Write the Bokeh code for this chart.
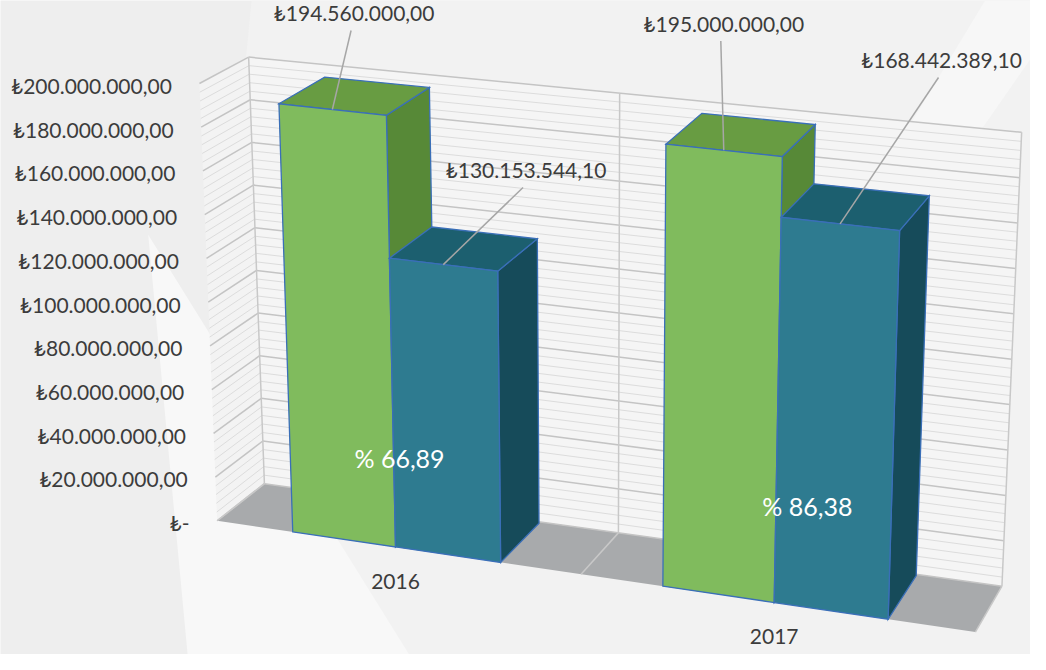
from bokeh.plotting import figure
from bokeh.models import Range1d
from bokeh.core.properties import value
from bokeh.embed import file_html
from bokeh.resources import INLINE

# ---------------- data ----------------
categories = ["2016", "2017"]
budget = [194560000.00, 195000000.00]      # green series
spent = [130153544.10, 168442389.10]       # blue series
pct_labels = ["% 66,89", "% 86,38"]
tick_values = [0, 20e6, 40e6, 60e6, 80e6, 100e6, 120e6, 140e6, 160e6, 180e6, 200e6]
minor_step = 4e6
y_max = 200e6

# ---------------- style / layout ----------------
FONT = "Lato"
TXT = "#3c3c3c"
GREEN = ("#80bb5d", "#689c42", "#578937")   # front, top, side
BLUE = ("#2e7b90", "#1c5f6f", "#164b5a")
EDGE = "#3a6fb8"
# projected corners of the 3-D plot box (back/front, bottom/top, left/right)
BBL, BBR, BTL, BTR = (268, 495), (1017, 600), (252, 58), (1037, 135)
FBL, FBR, FTL, FTR = (220, 533), (990, 647), (202, 85), (1008, 171)
K = 0.923          # perspective foreshortening along the category axis
GAP = 1.5          # gap width (in bar widths)
W0, W1 = 0.03, 1.0  # bar depth extent


def lerp(a, b, t):
    return (a[0] + (b[0] - a[0]) * t, a[1] + (b[1] - a[1]) * t)


def proj(u, v, w):
    s = K * u / (1 + (K - 1) * u)
    back = lerp(lerp(BBL, BBR, s), lerp(BTL, BTR, s), v)
    front = lerp(lerp(FBL, FBR, s), lerp(FTL, FTR, s), v)
    return lerp(back, front, w)


def poly(pts):
    return [q[0] for q in pts], [q[1] for q in pts]


def money(x):
    if x == 0:
        return "\u20ba-"
    s = f"{x:,.2f}".replace(",", "X").replace(".", ",").replace("X", ".")
    return "\u20ba" + s


p = figure(width=1030, height=654, x_range=Range1d(0, 1046), y_range=Range1d(670, 0),
           output_backend="svg", toolbar_location=None, min_border=0,
           x_axis_location=None, y_axis_location=None)
p.grid.visible = False
p.outline_line_color = None
p.background_fill_color = "#eeeeee"
p.border_fill_color = "#eeeeee"

# decorative background shapes
bg_shapes = [
    [(255, 0), (1046, 0), (1046, 670), (190, 670)],
    [(150, 240), (190, 670), (415, 670)],
    [(1000, 0), (1046, 0), (1046, 60), (880, 300), (820, 300)],
]
bg_cols = ["#f2f2f2", "#f8f8f8", "#f7f7f7"]
bx, by = [], []
for s in bg_shapes:
    xs, ys = poly(s)
    bx.append(xs)
    by.append(ys)
p.patches(bx, by, fill_color=bg_cols, line_color=None)

# walls and floor
walls = [
    [proj(0, 0, 0), proj(1, 0, 0), proj(1, 1, 0), proj(0, 1, 0)],
    [proj(0, 0, 0), proj(0, 0, 1), proj(0, 1, 1), proj(0, 1, 0)],
    [proj(0, 0, 0), proj(1, 0, 0), proj(1, 0, 1), proj(0, 0, 1)],
]
wx, wy = [], []
for s in walls:
    xs, ys = poly(s)
    wx.append(xs)
    wy.append(ys)
p.patches(wx, wy, fill_color=["#f5f5f5", "#f3f3f3", "#a8aaac"], line_color=None)

# gridlines
minor_x, minor_y, major_x, major_y = [], [], [], []
n_minor = int(round(y_max / minor_step))
for k in range(n_minor + 1):
    val = k * minor_step
    v = val / y_max
    segs = [(proj(0, v, 0), proj(1, v, 0)), (proj(0, v, 0), proj(0, v, 1))]
    for a, b in segs:
        if any(abs(val - t) < 1 for t in tick_values):
            major_x.append([a[0], b[0]])
            major_y.append([a[1], b[1]])
        else:
            minor_x.append([a[0], b[0]])
            minor_y.append([a[1], b[1]])
p.multi_line(minor_x, minor_y, line_color="#dcdcdc", line_width=1)
p.multi_line(major_x, major_y, line_color="#c4c4c4", line_width=1.5)

vx, vy = [], []
for i in range(len(categories) + 1):
    u = i / len(categories)
    a, b = proj(u, 0, 0), proj(u, 1, 0)
    vx.append([a[0], b[0]])
    vy.append([a[1], b[1]])
    c, d = proj(u, 0, 0), proj(u, 0, 1)
    vx.append([c[0], d[0]])
    vy.append([c[1], d[1]])
p.multi_line(vx, vy, line_color="#c8c8c8", line_width=1.5)

# bars
n_cat, n_ser = len(categories), 2
bw = 1.0 / (n_cat * (n_ser + GAP))
fx, fy, fcol = [], [], []
series = [(budget, GREEN), (spent, BLUE)]
bar_top_anchor = []
for i in range(n_cat):
    for j, (vals, cols) in enumerate(series):
        u0 = i / n_cat + GAP / 2 * bw + j * bw
        u1 = u0 + bw
        v = vals[i] / y_max
        side = [proj(u1, 0, W0), proj(u1, 0, W1), proj(u1, v, W1), proj(u1, v, W0)]
        top = [proj(u0, v, W0), proj(u1, v, W0), proj(u1, v, W1), proj(u0, v, W1)]
        front = [proj(u0, 0, W1), proj(u1, 0, W1), proj(u1, v, W1), proj(u0, v, W1)]
        for face, col in ((side, cols[2]), (top, cols[1]), (front, cols[0])):
            xs, ys = poly(face)
            fx.append(xs)
            fy.append(ys)
            fcol.append(col)
        bar_top_anchor.append(proj((u0 + u1) / 2, v, W1))
p.patches(fx, fy, fill_color=fcol, line_color=EDGE, line_width=1.3, line_join="miter")

# value labels with leader lines
label_vals = [budget[0], spent[0], budget[1], spent[1]]
label_off = [(22, -99), (84, -97), (0, -130), (103, -168)]
lx, ly, lt, llx, lly = [], [], [], [], []
for (ax, ay), (ox, oy), val in zip(bar_top_anchor, label_off, label_vals):
    tx, ty = ax + ox, ay + oy
    lx.append(tx)
    ly.append(ty)
    lt.append(money(val))
    llx.append([tx - 3, ax])
    lly.append([ty + 18, ay])
p.multi_line(llx, lly, line_color="#a6a6a6", line_width=1.5)
p.text(lx, ly, text=lt, text_font=value(FONT), text_font_size="21px",
       text_align="center", text_baseline="middle", text_color=TXT)

# percent labels
pct_off = [(6, 0), (32, -5)]
px_, py_ = [], []
for i in range(n_cat):
    ub = i / n_cat + GAP / 2 * bw + bw
    a = proj(ub, 0.2, W1)
    px_.append(a[0] + pct_off[i][0])
    py_.append(a[1] + pct_off[i][1])
p.text(px_, py_, text=pct_labels, text_font=value(FONT), text_font_size="25px",
       text_align="center", text_baseline="middle", text_color="#ffffff")

# category labels
cx, cy = [], []
for i in range(n_cat):
    a = proj((i + 0.5) / n_cat, 0, 1)
    cx.append(a[0])
    cy.append(a[1] + 35)
p.text(cx, cy, text=categories, text_font=value(FONT), text_font_size="21px",
       text_align="center", text_baseline="middle", text_color=TXT)

# value-axis tick labels
tx_, ty_, tt_ = [], [], []
for t in tick_values:
    a = proj(0, t / y_max, 1)
    tx_.append(a[0] - 28)
    ty_.append(a[1] + 2)
    tt_.append(money(t))
p.text(tx_, ty_, text=tt_, text_font=value(FONT), text_font_size="21px",
       text_align="right", text_baseline="middle", text_color=TXT)

open("out.html", "w").write(file_html(p, INLINE))
